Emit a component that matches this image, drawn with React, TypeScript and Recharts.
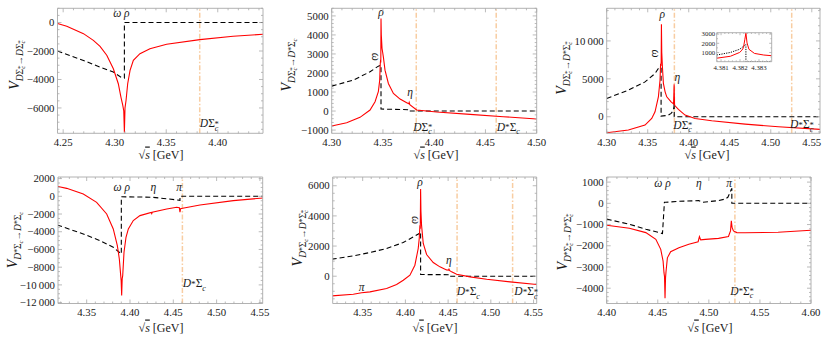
import React from 'react';
import { LineChart, Line, XAxis, YAxis, ReferenceLine, ReferenceDot } from 'recharts';

const W = 822;
const H = 339;
const FONT = '"Liberation Serif", "DejaVu Serif", serif';
const FRAME = '#a9a9a9';
const INK = '#1a1a1a';
const RED = '#ff0000';
const ORANGE = '#f8cda2';

// thresholds in GeV
const TH_DSCS = 4.3825; // D Sigma_c^*
const TH_DSSC = 4.4605; // D^* Sigma_c
const TH_DSSCS = 4.5255; // D^* Sigma_c^*

// ---- panel 1: DΣc* -> DΣc* ----
const p1RedX = [4.2445, 4.2535, 4.2697, 4.2793, 4.2858, 4.2923, 4.2987, 4.3035, 4.3061, 4.3078, 4.3088, 4.3094, 4.31, 4.311, 4.3126, 4.3149, 4.3181, 4.3245, 4.3342, 4.3504, 4.3826, 4.4149, 4.4439];
const p1RedY = [-70, -260, -780, -1250, -1670, -2300, -3250, -4300, -5250, -5800, -6200, -7720, -6000, -5480, -4300, -3360, -2660, -2190, -1835, -1530, -1200, -965, -820];
const p1DashX = [4.2445, 4.2697, 4.2858, 4.2987, 4.3061, 4.3094, 4.3094, 4.4439];
const p1DashY = [-2000, -2660, -3130, -3480, -3835, -3900, 0, 0];

// ---- panel 2: DΣc* -> D*Σc ----
const p2RedX = [4.3, 4.3146, 4.3276, 4.3374, 4.3423, 4.3455, 4.3468, 4.3474, 4.3477, 4.3479, 4.3481, 4.3484, 4.3491, 4.3504, 4.352, 4.3553, 4.3602, 4.3667, 4.3732, 4.3752, 4.3756, 4.3762, 4.3829, 4.4024, 4.435, 4.4675, 4.5];
const p2RedY = [-787, -612, -332, 52, 490, 1014, 1600, 2500, 2700, 2550, 4860, 4000, 3300, 2850, 2150, 1450, 927, 630, 437, 380, 450, 340, 52, -52, -175, -297, -420];
const p2DashX = [4.3, 4.3211, 4.3374, 4.3455, 4.3481, 4.3481, 4.3756, 4.3756, 4.5];
const p2DashY = [1311, 1626, 2063, 2360, 2413, 105, 70, 0, 0];

// ---- panel 3: DΣc* -> D*Σc* ----
const p3RedX = [4.3, 4.3264, 4.3467, 4.3549, 4.3589, 4.363, 4.365, 4.3657, 4.3661, 4.3664, 4.3667, 4.3671, 4.3679, 4.3691, 4.3712, 4.3732, 4.3785, 4.3815, 4.3822, 4.3827, 4.3833, 4.3874, 4.3955, 4.4077, 4.428, 4.4687, 4.5093, 4.5602];
const p3RedY = [-2100, -1750, -1100, -220, 660, 2630, 4820, 7000, 6700, 7300, 12200, 8500, 6580, 4390, 3290, 2630, 1970, 1700, 4300, 1600, 1450, 965, 220, -220, -530, -965, -1315, -1670];
const p3DashX = [4.3, 4.3264, 4.3467, 4.3589, 4.363, 4.3663, 4.3663, 4.375, 4.3785, 4.3807, 4.3815, 4.382, 4.3823, 4.3823, 4.56];
const p3DashY = [2410, 3510, 4600, 5700, 6360, 6500, 80, 200, 450, 725, 1005, 1350, 1870, 0, 0];

// inset of panel 3
const inRedX = [4.38077, 4.38149, 4.38198, 4.3821, 4.38218, 4.38225, 4.38231, 4.38237, 4.38247, 4.38276, 4.38325, 4.38367];
const inRedY = [380, 590, 1005, 1250, 1520, 2380, 3100, 2040, 1350, 900, 725, 650];
const inDotX = [4.38077, 4.38149, 4.38198, 4.38224, 4.38231, 4.38231, 4.38367];
const inDotY = [725, 1005, 1350, 1760, 1870, 0, 0];

// ---- panel 4: D*Σc -> D*Σc ----
const p4RedX = [4.316, 4.3269, 4.3461, 4.3615, 4.3731, 4.3807, 4.3854, 4.3877, 4.3893, 4.3898, 4.3904, 4.391, 4.3916, 4.3931, 4.3954, 4.3981, 4.4038, 4.4115, 4.4245, 4.4251, 4.4257, 4.4424, 4.4539, 4.457, 4.4577, 4.4584, 4.4608, 4.4808, 4.5193, 4.5539];
const p4RedY = [1128, 900, 263, -677, -1990, -3680, -5560, -7070, -8950, -9500, -11200, -9300, -8950, -6315, -4620, -3680, -2740, -2180, -1830, -1950, -1800, -1430, -1240, -1300, -1800, -1400, -1350, -980, -490, -190];
const p4DashX = [4.316, 4.3461, 4.3654, 4.3807, 4.3885, 4.39, 4.39, 4.4251, 4.4539, 4.4577, 4.4577, 4.5539];
const p4DashY = [-3233, -4250, -5000, -5750, -6390, -6500, -50, -100, -400, -450, 0, 0];

// ---- panel 5: D*Σc -> D*Σc* ----
const p5RedX = [4.3137, 4.339, 4.3488, 4.3585, 4.378, 4.3897, 4.3975, 4.4053, 4.4111, 4.415, 4.4162, 4.417, 4.4174, 4.4178, 4.4182, 4.4189, 4.4209, 4.4248, 4.4326, 4.4404, 4.4482, 4.4506, 4.451, 4.4515, 4.4541, 4.46, 4.4756, 4.4951, 4.5225, 4.5537];
const p5RedY = [-1306, -1195, -1100, -1040, -818, -553, -265, 66, 730, 1836, 2500, 3385, 3150, 5780, 4300, 3390, 2170, 1440, 907, 620, 420, 400, 510, 380, 288, 133, -44, -200, -376, -553];
const p5DashX = [4.3137, 4.339, 4.3585, 4.378, 4.3975, 4.4092, 4.4162, 4.4178, 4.4178, 4.451, 4.451, 4.5537];
const p5DashY = [1129, 1350, 1570, 1836, 2235, 2610, 2834, 2944, 110, 100, 0, 0];

// ---- panel 6: D*Σc* -> D*Σc* ----
const p6RedX = [4.4, 4.4222, 4.4383, 4.4481, 4.4529, 4.4552, 4.4561, 4.4566, 4.4571, 4.4576, 4.4581, 4.4594, 4.4626, 4.4707, 4.4804, 4.4895, 4.4908, 4.492, 4.4966, 4.5095, 4.5192, 4.5212, 4.522, 4.5228, 4.5241, 4.5274, 4.5354, 4.5678, 4.6];
const p6RedY = [-1030, -1173, -1380, -1695, -2170, -2726, -3280, -3450, -4470, -3500, -3200, -2570, -2280, -2090, -1930, -1810, -1570, -1720, -1700, -1650, -1560, -1300, -825, -1150, -1300, -1380, -1390, -1360, -1270];
const p6DashX = [4.4, 4.4222, 4.4383, 4.4513, 4.4546, 4.4565, 4.4578, 4.4707, 4.4901, 4.4934, 4.5095, 4.516, 4.5186, 4.5209, 4.5222, 4.5225, 4.5225, 4.6];
const p6DashY = [-745, -983, -1220, -1380, -1426, 48, 48, 95, 127, 48, 127, 200, 285, 523, 680, 680, 0, 0];

// ---- tick labels ----
const xMaj1 = [4.25, 4.3, 4.35, 4.4];
const xMaj2 = [4.3, 4.35, 4.4, 4.45, 4.5];
const xMaj3 = [4.3, 4.35, 4.4, 4.45, 4.5, 4.55];
const xMaj45 = [4.35, 4.4, 4.45, 4.5, 4.55];
const xMaj6 = [4.4, 4.45, 4.5, 4.55, 4.6];
const yMaj1 = [-6000, -4000, -2000, 0];
const yMaj2 = [-1000, 0, 1000, 2000, 3000, 4000, 5000];
const yMaj3 = [0, 5000, 10000];
const yMaj4 = [-12000, -10000, -8000, -6000, -4000, -2000, 0, 2000];
const yMaj5 = [0, 2000, 4000, 6000];
const yMaj6 = [-4000, -3000, -2000, -1000, 0, 1000];
const xMajIn = [4.381, 4.382, 4.383];
const yMajIn = [1000, 2000, 3000];

type Pt = { x: number; y: number };
const zip = (xs: number[], ys: number[]): Pt[] => xs.map((x, i) => ({ x, y: ys[i] }));

const steps = (from: number, to: number, step: number) => {
  const out: number[] = [];
  const n = Math.round((to - from) / step);
  for (let i = 0; i <= n; i++) out.push(+(from + i * step).toFixed(6));
  return out;
};

const fmtY = (v: number) => {
  const a = Math.abs(Math.round(v));
  let s = String(a);
  if (a >= 10000) s = s.slice(0, -3) + '\u2009' + s.slice(-3);
  return (v < 0 ? '\u2212' : '') + s;
};
const fmtX2 = (v: number) => v.toFixed(2);
const fmtX3 = (v: number) => v.toFixed(3);

type Tok = { t: string; fs: number; off: number; it?: boolean; dx?: number };

const pairToks = (dStar: boolean, sStar: boolean, b: number, o: number): Tok[] => {
  const k: Tok[] = [{ t: 'D', fs: b, off: o, it: true }];
  if (dStar) k.push({ t: '*', fs: b * 0.8, off: o - b * 0.05 });
  k.push({ t: 'Σ', fs: b, off: o });
  k.push({ t: 'c', fs: b * 0.7, off: o + b * 0.3, it: true });
  if (sStar) k.push({ t: '*', fs: b * 0.75, off: o - b * 0.05, dx: -b * 0.33 });
  return k;
};

const Rich = ({ toks, ...rest }: { toks: Tok[] } & React.SVGProps<SVGTextElement>) => {
  let prev = 0;
  return (
    <text fontFamily={FONT} fill={INK} {...rest}>
      {toks.map((k, i) => {
        const dy = k.off - prev;
        prev = k.off;
        return (
          <tspan key={i} dy={dy} dx={k.dx} fontSize={k.fs} fontStyle={k.it ? 'italic' : 'normal'}>
            {k.t}
          </tspan>
        );
      })}
    </text>
  );
};

interface Note {
  x: number;
  y: number;
  text?: string;
  rot?: boolean;
  pair?: [boolean, boolean];
}

interface PanelCfg {
  frame: { l: number; r: number; t: number; b: number };
  xDom: [number, number];
  yDom: [number, number];
  xMajor: number[];
  xMinor: number[];
  yMajor: number[];
  yMinor: number[];
  xFmt: (v: number) => string;
  red: Pt[];
  dash: Pt[];
  dashArray: string;
  lw: number;
  thresholds: number[];
  notes: Note[];
  fs: number;
  majLen: number;
  minLen: number;
  xLabelDy: number;
  yLabelDx: number;
}

const renderNote = (n: Note, cx: number, cy: number) => {
  if (n.pair) {
    return <Rich x={cx} y={cy} textAnchor="start" toks={pairToks(n.pair[0], n.pair[1], 11.5, 0)} />;
  }
  if (n.rot) {
    return (
      <text transform={`translate(${cx},${cy}) rotate(90)`} textAnchor="middle" dominantBaseline="central" fontFamily={FONT} fontStyle="italic" fontSize={11.5} fill={INK}>
        {n.text}
      </text>
    );
  }
  return (
    <text x={cx} y={cy} textAnchor="middle" fontFamily={FONT} fontStyle="italic" fontSize={11.5} fill={INK}>
      {n.text}
    </text>
  );
};

const Panel = ({ c }: { c: PanelCfg }) => {
  const { frame } = c;
  const isMaj = (arr: number[], v: number) => arr.some((m) => Math.abs(m - v) < 1e-7);
  const inX = (v: number) => v >= c.xDom[0] - 1e-9 && v <= c.xDom[1] + 1e-9;
  const inY = (v: number) => v >= c.yDom[0] - 1e-9 && v <= c.yDom[1] + 1e-9;
  const xTicks = Array.from(new Set([...c.xMajor, ...c.xMinor].map((v) => +v.toFixed(6)))).filter(inX).sort((a, b) => a - b);
  const yTicks = Array.from(new Set([...c.yMajor, ...c.yMinor].map((v) => +v.toFixed(6)))).filter(inY).sort((a, b) => a - b);

  const bottomTick = (p: any) => {
    const v = p.payload.value;
    const maj = isMaj(c.xMajor, v);
    return (
      <g>
        <line x1={p.x} x2={p.x} y1={p.y} y2={p.y - (maj ? c.majLen : c.minLen)} stroke={FRAME} strokeWidth={0.8} />
        {maj && (
          <text x={p.x} y={p.y + c.xLabelDy} textAnchor="middle" fontFamily={FONT} fontSize={c.fs} fill={INK}>
            {c.xFmt(v)}
          </text>
        )}
      </g>
    );
  };
  const topTick = (p: any) => {
    const maj = isMaj(c.xMajor, p.payload.value);
    return <line x1={p.x} x2={p.x} y1={p.y} y2={p.y + (maj ? c.majLen : c.minLen)} stroke={FRAME} strokeWidth={0.8} />;
  };
  const leftTick = (p: any) => {
    const v = p.payload.value;
    const maj = isMaj(c.yMajor, v);
    return (
      <g>
        <line x1={p.x} x2={p.x + (maj ? c.majLen : c.minLen)} y1={p.y} y2={p.y} stroke={FRAME} strokeWidth={0.8} />
        {maj && (
          <text x={p.x + c.yLabelDx} y={p.y} dy={c.fs * 0.34} textAnchor="end" fontFamily={FONT} fontSize={c.fs} fill={INK}>
            {fmtY(v)}
          </text>
        )}
      </g>
    );
  };
  const rightTick = (p: any) => {
    const maj = isMaj(c.yMajor, p.payload.value);
    return <line x1={p.x} x2={p.x - (maj ? c.majLen : c.minLen)} y1={p.y} y2={p.y} stroke={FRAME} strokeWidth={0.8} />;
  };

  const axisCommon = {
    type: 'number' as const,
    allowDataOverflow: true,
    interval: 0 as const,
    tickSize: 0,
    tickMargin: 0,
    tickLine: false,
    axisLine: { stroke: FRAME, strokeWidth: 0.9 },
  };

  // axes are 1px thick so that Recharts still draws them
  return (
    <div style={{ position: 'absolute', left: 0, top: 0 }}>
      <LineChart width={W} height={H} margin={{ top: frame.t - 1, bottom: H - frame.b - 1, left: frame.l - 1, right: W - frame.r - 1 }}>
        <XAxis xAxisId="b" dataKey="x" domain={c.xDom} ticks={xTicks} height={1} tick={bottomTick} {...axisCommon} />
        <XAxis xAxisId="t" orientation="top" dataKey="x" domain={c.xDom} ticks={xTicks} height={1} tick={topTick} {...axisCommon} />
        <YAxis yAxisId="l" domain={c.yDom} ticks={yTicks} width={1} tick={leftTick} {...axisCommon} />
        <YAxis yAxisId="r" orientation="right" domain={c.yDom} ticks={yTicks} width={1} tick={rightTick} {...axisCommon} />
        {c.thresholds.map((t) => (
          <ReferenceLine key={t} xAxisId="b" yAxisId="l" x={t} stroke={ORANGE} strokeWidth={1.5} strokeDasharray="5 2 1.5 2" />
        ))}
        <Line xAxisId="b" yAxisId="l" data={c.dash} dataKey="y" type="linear" stroke="#000" strokeWidth={c.lw} strokeDasharray={c.dashArray} dot={false} isAnimationActive={false} />
        <Line xAxisId="b" yAxisId="l" data={c.red} dataKey="y" type="linear" stroke={RED} strokeWidth={c.lw} dot={false} isAnimationActive={false} />
        {c.notes.map((n, i) => (
          <ReferenceDot key={i} xAxisId="b" yAxisId="l" x={n.x} y={n.y} r={0} ifOverflow="visible" shape={(p: any) => renderNote(n, p.cx, p.cy)} />
        ))}
      </LineChart>
    </div>
  );
};

const TOP = { t: 8.3, b: 133.3 };
const BOT = { t: 177, b: 303.5 };
const base = { dashArray: '5 3', lw: 1.1, fs: 10.8, majLen: 4, minLen: 2, xLabelDy: 12.5, yLabelDx: -3, xFmt: fmtX2 };

const panels: PanelCfg[] = [
  {
    ...base,
    frame: { l: 57.5, r: 263, ...TOP },
    xDom: [4.2445, 4.4439],
    yDom: [-7780, 1000],
    xMajor: xMaj1,
    xMinor: steps(4.25, 4.44, 0.01),
    yMajor: yMaj1,
    yMinor: steps(-7500, 1000, 500),
    red: zip(p1RedX, p1RedY),
    dash: zip(p1DashX, p1DashY),
    thresholds: [TH_DSCS],
    notes: [
      { x: 4.3065, y: 400, text: 'ω ρ' },
      { x: 4.3826, y: -7370, pair: [false, true] },
    ],
  },
  {
    ...base,
    frame: { l: 331.7, r: 536.7, ...TOP },
    xDom: [4.3, 4.5],
    yDom: [-1170, 5400],
    xMajor: xMaj2,
    xMinor: steps(4.3, 4.5, 0.01),
    yMajor: yMaj2,
    yMinor: steps(-1000, 5400, 200),
    red: zip(p2RedX, p2RedY),
    dash: zip(p2DashX, p2DashY),
    thresholds: [TH_DSCS, TH_DSSC],
    notes: [
      { x: 4.3481, y: 5000, text: 'ρ' },
      { x: 4.3432, y: 2850, text: 'ω', rot: true },
      { x: 4.3764, y: 815, text: 'η' },
      { x: 4.3796, y: -1033, pair: [false, true] },
      { x: 4.461, y: -1033, pair: [true, false] },
    ],
  },
  {
    ...base,
    frame: { l: 606.7, r: 820, ...TOP },
    xDom: [4.3, 4.56],
    yDom: [-2180, 14300],
    xMajor: xMaj3,
    xMinor: steps(4.3, 4.56, 0.01),
    yMajor: yMaj3,
    yMinor: steps(-2000, 14000, 1000),
    red: zip(p3RedX, p3RedY),
    dash: zip(p3DashX, p3DashY),
    thresholds: [TH_DSCS, TH_DSSCS],
    notes: [
      { x: 4.3678, y: 13000, text: 'ρ' },
      { x: 4.3601, y: 8340, text: 'ω', rot: true },
      { x: 4.3861, y: 4650, text: 'η' },
      { x: 4.3812, y: -1610, pair: [false, true] },
      { x: 4.5235, y: -1530, pair: [true, true] },
    ],
  },
  {
    ...base,
    frame: { l: 58, r: 262.7, ...BOT },
    xDom: [4.3169, 4.5532],
    yDom: [-12100, 2180],
    xMajor: xMaj45,
    xMinor: steps(4.32, 4.55, 0.01),
    yMajor: yMaj4,
    yMinor: steps(-12000, 2000, 500),
    red: zip(p4RedX, p4RedY),
    dash: zip(p4DashX, p4DashY),
    thresholds: [TH_DSSC],
    notes: [
      { x: 4.3904, y: 650, text: 'ω ρ' },
      { x: 4.4269, y: 650, text: 'η' },
      { x: 4.4566, y: 650, text: 'π' },
      { x: 4.4609, y: -10270, pair: [true, false] },
    ],
  },
  {
    ...base,
    frame: { l: 332.7, r: 536.7, ...BOT },
    xDom: [4.3149, 4.5537],
    yDom: [-1810, 6580],
    xMajor: xMaj45,
    xMinor: steps(4.32, 4.55, 0.01),
    yMajor: yMaj5,
    yMinor: steps(-1500, 6500, 500),
    red: zip(p5RedX, p5RedY),
    dash: zip(p5DashX, p5DashY),
    thresholds: [TH_DSSC, TH_DSSCS],
    notes: [
      { x: 4.4171, y: 5950, text: 'ρ' },
      { x: 4.4124, y: 3720, text: 'ω', rot: true },
      { x: 4.451, y: 800, text: 'η' },
      { x: 4.3488, y: -960, text: 'π' },
      { x: 4.4601, y: -1262, pair: [true, false] },
      { x: 4.5275, y: -1262, pair: [true, true] },
    ],
  },
  {
    ...base,
    frame: { l: 606.7, r: 811, ...BOT },
    xDom: [4.4, 4.6],
    yDom: [-4720, 1240],
    xMajor: xMaj6,
    xMinor: steps(4.4, 4.6, 0.01),
    yMajor: yMaj6,
    yMinor: steps(-4600, 1200, 200),
    red: zip(p6RedX, p6RedY),
    dash: zip(p6DashX, p6DashY),
    thresholds: [TH_DSSCS],
    notes: [
      { x: 4.4546, y: 760, text: 'ω ρ' },
      { x: 4.4901, y: 760, text: 'η' },
      { x: 4.5199, y: 760, text: 'π' },
      { x: 4.5209, y: -4320, pair: [true, true] },
    ],
  },
];

const inset: PanelCfg = {
  frame: { l: 716.7, r: 771.7, t: 32.7, b: 61.7 },
  xDom: [4.38077, 4.38367],
  yDom: [0, 3150],
  xMajor: xMajIn,
  xMinor: steps(4.3808, 4.3836, 0.0002),
  yMajor: yMajIn,
  yMinor: steps(500, 3000, 500),
  xFmt: fmtX3,
  red: zip(inRedX, inRedY),
  dash: zip(inDotX, inDotY),
  dashArray: '1.2 1.2',
  lw: 1,
  thresholds: [],
  notes: [],
  fs: 6.8,
  majLen: 2.5,
  minLen: 1.3,
  xLabelDy: 8,
  yLabelDx: -1.5,
};

// y-axis titles: [cx, cy, from, to]
const yTitles: [number, number, [boolean, boolean], [boolean, boolean]][] = [
  [15, 65, [false, true], [false, true]],
  [287, 65, [false, true], [true, false]],
  [562, 68, [false, true], [true, true]],
  [13, 240, [true, false], [true, false]],
  [298, 238, [true, false], [true, true]],
  [563, 242, [true, true], [true, true]],
];
const xTitles: [number, number][] = [
  [161, 158.5],
  [436, 158.5],
  [707, 158.5],
  [161, 331.5],
  [435, 331.5],
  [710, 331.5],
];

const vToks = (a: [boolean, boolean], b: [boolean, boolean]): Tok[] => [
  { t: 'V', fs: 14, off: 0, it: true },
  ...pairToks(a[0], a[1], 9.5, 3.5),
  { t: '→', fs: 9.5, off: 3.5 },
  ...pairToks(b[0], b[1], 9.5, 3.5),
];

export default function App() {
  return (
    <div style={{ position: 'absolute', left: 0, top: 0, width: W, height: H, background: '#fff' }}>
      {panels.map((c, i) => (
        <Panel key={i} c={c} />
      ))}
      <Panel c={inset} />
      <svg width={W} height={H} style={{ position: 'absolute', left: 0, top: 0, pointerEvents: 'none' }}>
        {yTitles.map(([cx, cy, a, b], i) => (
          <Rich key={i} toks={vToks(a, b)} textAnchor="middle" transform={`translate(${cx},${cy}) rotate(-90)`} x={0} y={4} />
        ))}
        {xTitles.map(([cx, cy], i) => (
          <text key={i} x={cx} y={cy} textAnchor="middle" fontFamily={FONT} fontSize={12} fill={INK}>
            <tspan>√</tspan>
            <tspan fontStyle="italic" style={{ textDecoration: 'overline' }}>s</tspan>
            <tspan> [GeV]</tspan>
          </text>
        ))}
      </svg>
    </div>
  );
}
